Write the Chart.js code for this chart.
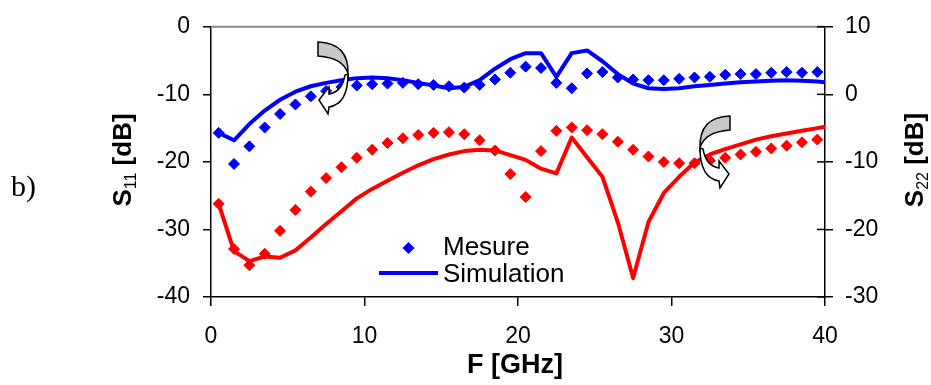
<!DOCTYPE html>
<html>
<head>
<meta charset="utf-8">
<script src="https://cdn.jsdelivr.net/npm/chart.js@4.4.0/dist/chart.umd.min.js"></script>
<style>
html,body{margin:0;padding:0;background:#fff;}
canvas{display:block;}
</style>
</head>
<body>
<canvas id="c" width="931" height="385"></canvas>
<script>
// ---- data ----
const freqMeas = [0.5,1.5,2.5,3.5,4.5,5.5,6.5,7.5,8.5,9.5,10.5,11.5,12.5,13.5,14.5,15.5,16.5,17.5,18.5,19.5,
                  20.5,21.5,22.5,23.5,24.5,25.5,26.5,27.5,28.5,29.5,30.5,31.5,32.5,33.5,34.5,35.5,36.5,37.5,38.5,39.5];
const freqSim  = [0.5,1.5,2.5,3.5,4.5,5.5,6.5,7.5,8.5,9.5,10.5,11.5,12.5,13.5,14.5,15.5,16.5,17.5,18.5,19.5,
                  20.5,21.5,22.5,23.5,24.5,25.5,26.5,27.5,28.5,29.5,30.5,31.5,32.5,33.5,34.5,35.5,36.5,37.5,38.5,39.5,40];
// S11 [dB] (left axis)
const s11Meas = [-15.7,-20.3,-17.7,-14.9,-12.9,-11.5,-10.3,-9.5,-8.9,-8.7,-8.5,-8.4,-8.3,-8.5,-8.6,-8.8,-9.0,-8.6,-7.8,-6.8,
                 -5.9,-6.1,-8.3,-9.1,-6.9,-6.7,-7.5,-7.8,-7.9,-7.9,-7.7,-7.5,-7.4,-7.1,-7.0,-7.0,-6.8,-6.7,-6.8,-6.7];
const s11Sim  = [-15.7,-16.8,-14.4,-12.4,-10.8,-9.6,-8.8,-8.3,-7.9,-7.6,-7.5,-7.6,-7.9,-8.3,-8.7,-9.1,-8.9,-7.9,-6.2,-4.8,
                 -3.9,-3.9,-7.4,-3.9,-3.5,-5.1,-7.0,-8.4,-9.1,-9.2,-9.1,-8.8,-8.6,-8.4,-8.2,-8.1,-8.0,-7.9,-8.0,-8.1,-8.2];
// S22 [dB] (right axis)
const s22Meas = [-16.2,-22.9,-25.3,-23.6,-20.2,-17.1,-14.4,-12.4,-10.8,-9.4,-8.2,-7.2,-6.5,-6.0,-5.7,-5.6,-5.9,-6.8,-8.3,-11.8,
                 -15.2,-8.4,-5.4,-4.9,-5.3,-5.9,-7.0,-8.2,-9.2,-10.0,-10.2,-10.2,-9.8,-9.4,-8.9,-8.5,-8.0,-7.6,-7.1,-6.7];
const s22Sim  = [-16.2,-23.2,-24.7,-24.0,-24.2,-23.1,-21.2,-19.2,-17.3,-15.4,-14.0,-12.8,-11.6,-10.5,-9.6,-8.9,-8.4,-8.2,-8.3,-9.0,
                 -9.7,-11.0,-11.7,-6.4,-9.3,-12.2,-18.9,-27.2,-18.9,-14.6,-12.2,-10.1,-8.9,-8.1,-7.4,-6.7,-6.2,-5.8,-5.4,-5.0,-4.8];
// tick labels
const xTicks   = [0,10,20,30,40];
const s11Ticks = [-40,-30,-20,-10,0];
const s22Ticks = [-30,-20,-10,0,10];
// legend labels / titles
const legendLabels = ['Mesure','Simulation'];
const xTitle = 'F [GHz]';
const panelLabel = 'b)';

// ---- styles ----
const SANS = '"Liberation Sans", Arial, sans-serif';
const SERIF = '"Liberation Serif", "Times New Roman", serif';
const BLUE = '#0000ff', RED = '#ff0000';

const pts = (xs, ys) => xs.map((x, i) => ({x: x, y: ys[i]}));
const setTicks = arr => scale => { scale.ticks = arr.map(v => ({value: v})); };

function arrow(ctx, map) {
  const M = (u, v) => map(u, v);
  ctx.save();
  ctx.lineWidth = 1.5;
  ctx.strokeStyle = '#000';
  ctx.lineJoin = 'miter';
  // grey back crescent
  ctx.beginPath();
  let p = M(0, 0); ctx.moveTo(p[0], p[1]);
  let c = M(31, 1), e = M(30, 32); ctx.quadraticCurveTo(c[0], c[1], e[0], e[1]);
  c = M(26, 16); e = M(0, 14); ctx.quadraticCurveTo(c[0], c[1], e[0], e[1]);
  ctx.closePath();
  ctx.fillStyle = '#c8c8c8';
  ctx.fill(); ctx.stroke();
  // white front band with head
  ctx.beginPath();
  p = M(30, 32); ctx.moveTo(p[0], p[1]);
  c = M(30, 62); e = M(11, 65); ctx.quadraticCurveTo(c[0], c[1], e[0], e[1]);
  p = M(10, 72); ctx.lineTo(p[0], p[1]);
  p = M(1, 58); ctx.lineTo(p[0], p[1]);
  p = M(11, 45); ctx.lineTo(p[0], p[1]);
  p = M(11, 52); ctx.lineTo(p[0], p[1]);
  c = M(24, 50); e = M(27, 33); ctx.quadraticCurveTo(c[0], c[1], e[0], e[1]);
  ctx.closePath();
  ctx.fillStyle = '#fff';
  ctx.fill(); ctx.stroke();
  ctx.restore();
}

function subTitle(ctx, cx, cy, main, sub, rest, size) {
  ctx.save();
  ctx.translate(cx, cy);
  ctx.rotate(-Math.PI / 2);
  const fMain = 'bold ' + size + 'px ' + SANS;
  const fSub = Math.round(size * 0.62) + 'px ' + SANS;
  ctx.font = fMain; const w1 = ctx.measureText(main).width; const w3 = ctx.measureText(rest).width;
  ctx.font = fSub; const w2 = ctx.measureText(sub).width;
  let x = -(w1 + w2 + w3) / 2;
  const by = size * 0.36;
  ctx.fillStyle = '#000';
  ctx.textBaseline = 'alphabetic';
  ctx.textAlign = 'left';
  ctx.font = fMain; ctx.fillText(main, x, by);
  ctx.font = fSub; ctx.fillText(sub, x + w1, by + size * 0.18);
  ctx.font = fMain; ctx.fillText(rest, x + w1 + w2, by);
  ctx.restore();
}

const decor = {
  id: 'decor',
  afterDraw(chart) {
    const ctx = chart.ctx;
    const a = chart.chartArea;
    ctx.save();
    // grey top border
    ctx.strokeStyle = '#8a8a8a';
    ctx.lineWidth = 2;
    ctx.beginPath(); ctx.moveTo(a.left, a.top); ctx.lineTo(a.right, a.top); ctx.stroke();
    // inner half of right-axis ticks (they cross the axis)
    const y2 = chart.scales.y2;
    ctx.strokeStyle = '#000'; ctx.lineWidth = 1.5;
    s22Ticks.forEach(v => {
      const py = y2.getPixelForValue(v);
      ctx.beginPath(); ctx.moveTo(a.right - 8, py); ctx.lineTo(a.right, py); ctx.stroke();
    });
    // axis titles
    subTitle(ctx, 122, 160, 'S', '11', ' [dB]', 26);
    subTitle(ctx, 914, 160, 'S', '22', ' [dB]', 26);
    ctx.fillStyle = '#000';
    ctx.font = 'bold 27px ' + SANS;
    ctx.textAlign = 'center'; ctx.textBaseline = 'middle';
    ctx.fillText(xTitle, 515, 366);
    // panel label
    ctx.font = '30px ' + SERIF;
    ctx.textAlign = 'left';
    ctx.fillText(panelLabel, 11, 188);
    // legend (inside plot)
    ctx.fillStyle = BLUE;
    ctx.beginPath();
    ctx.moveTo(402.5, 248); ctx.lineTo(408.5, 242); ctx.lineTo(414.5, 248); ctx.lineTo(408.5, 254); ctx.closePath();
    ctx.fill();
    ctx.strokeStyle = BLUE; ctx.lineWidth = 4; ctx.lineCap = 'butt';
    ctx.beginPath(); ctx.moveTo(379, 273); ctx.lineTo(438, 273); ctx.stroke();
    ctx.fillStyle = '#000';
    ctx.font = '26px ' + SANS;
    ctx.textAlign = 'left'; ctx.textBaseline = 'middle';
    ctx.fillText(legendLabels[0], 443, 248);
    ctx.fillText(legendLabels[1], 443, 275);
    ctx.restore();
    // curved arrows (annotations)
    arrow(ctx, (u, v) => [318 + u, 42 + v]);
    arrow(ctx, (u, v) => [730 - u, 116 + v]);
  }
};

const tickFont = {family: SANS, size: 23};
const gridOpts = {drawOnChartArea: false, drawTicks: true, tickLength: 8, color: '#000', lineWidth: 1.5};
const borderOpts = {display: true, color: '#000', width: 1.5};

new Chart(document.getElementById('c').getContext('2d'), {
  type: 'line',
  data: {
    datasets: [
      {label: 'Mesure S11', data: pts(freqMeas, s11Meas), yAxisID: 'y', showLine: false,
       pointStyle: 'rectRot', pointRadius: 5.5, pointBackgroundColor: BLUE, pointBorderColor: BLUE, pointBorderWidth: 1},
      {label: 'Mesure S22', data: pts(freqMeas, s22Meas), yAxisID: 'y2', showLine: false,
       pointStyle: 'rectRot', pointRadius: 5.5, pointBackgroundColor: RED, pointBorderColor: RED, pointBorderWidth: 1},
      {label: 'Simulation S11', data: pts(freqSim, s11Sim), yAxisID: 'y', borderColor: BLUE, borderWidth: 4,
       pointRadius: 0, tension: 0, fill: false, borderJoinStyle: 'round', borderCapStyle: 'round'},
      {label: 'Simulation S22', data: pts(freqSim, s22Sim), yAxisID: 'y2', borderColor: RED, borderWidth: 4,
       pointRadius: 0, tension: 0, fill: false, borderJoinStyle: 'round', borderCapStyle: 'round'}
    ]
  },
  options: {
    responsive: false,
    animation: false,
    devicePixelRatio: 1,
    layout: {padding: {top: 20, left: 0, right: 0, bottom: 0}},
    plugins: {legend: {display: false}, tooltip: {enabled: false}},
    scales: {
      x: {type: 'linear', min: 0, max: 40,
          afterBuildTicks: setTicks(xTicks),
          ticks: {color: '#000', font: tickFont, padding: 17, maxRotation: 0, autoSkip: false},
          grid: Object.assign({}, gridOpts, {tickLength: 9}), border: borderOpts,
          afterFit: s => { s.height = 88; }},
      y: {type: 'linear', position: 'left', min: -40, max: 0,
          afterBuildTicks: setTicks(s11Ticks),
          ticks: {color: '#000', font: tickFont, padding: 13, autoSkip: false},
          grid: gridOpts, border: borderOpts,
          afterFit: s => { s.width = 211; }},
      y2: {type: 'linear', position: 'right', min: -30, max: 10,
          afterBuildTicks: setTicks(s22Ticks),
          ticks: {color: '#000', font: tickFont, padding: 12, autoSkip: false},
          grid: gridOpts, border: borderOpts,
          afterFit: s => { s.width = 106; }}
    }
  },
  plugins: [decor]
});
</script>
</body>
</html>
